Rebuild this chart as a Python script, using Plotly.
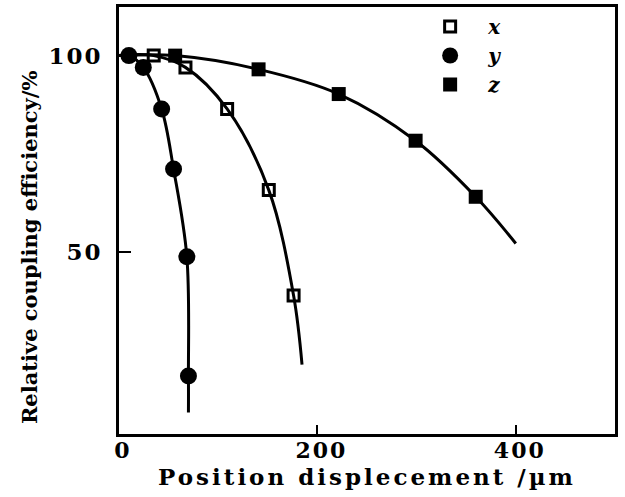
import plotly.graph_objects as go

# Marker data
x_disp = [35, 67, 109, 151, 176]
x_eff = [100, 97, 86.4, 65.7, 38.8]

y_disp = [10, 24.5, 43, 55, 68.4, 70]
y_eff = [100, 97, 86.4, 71.1, 48.7, 18.3]

z_disp = [56.6, 140.7, 221.5, 299, 359.6]
z_eff = [100, 96.5, 90.2, 78.3, 64]

# Fitted curves (start / end of each drawn curve)
x_curve_disp = [0, 35, 67, 109, 151, 176, 184.5]
x_curve_eff = [100, 100, 97, 86.4, 65.7, 38.8, 21.2]

y_curve_disp = [0, 10, 24.5, 43, 55, 68.4, 70, 70]
y_curve_eff = [100, 100, 97, 86.4, 71.1, 48.7, 18.3, 9.0]

z_curve_disp = [0, 56.6, 140.7, 221.5, 299, 359.6, 400]
z_curve_eff = [100, 100, 96.5, 90.2, 78.3, 64, 52.1]

x_ticks = [0, 200, 400]
y_ticks = [50, 100]

FONT = "DejaVu Serif"


def wide_bold(s, sp):
    return f'<b><span style="letter-spacing:{sp}px">{s}</span></b>'


fig = go.Figure()

for cx, cy in [(x_curve_disp, x_curve_eff), (y_curve_disp, y_curve_eff), (z_curve_disp, z_curve_eff)]:
    fig.add_trace(go.Scatter(x=cx, y=cy, mode="lines", showlegend=False,
                             line=dict(color="black", width=3, shape="spline", smoothing=1.0),
                             hoverinfo="skip"))

fig.add_trace(go.Scatter(x=x_disp, y=x_eff, mode="markers", name="<b><i>x</i></b>",
                         marker=dict(symbol="square-open", size=11, color="black",
                                     line=dict(color="black", width=3))))
fig.add_trace(go.Scatter(x=y_disp, y=y_eff, mode="markers", name="<b><i>y</i></b>",
                         marker=dict(symbol="circle", size=17, color="black")))
fig.add_trace(go.Scatter(x=z_disp, y=z_eff, mode="markers", name="<b><i>z</i></b>",
                         marker=dict(symbol="square", size=14, color="black")))

fig.update_layout(
    width=625, height=497,
    margin=dict(l=119, r=10, t=4, b=63),
    paper_bgcolor="white", plot_bgcolor="white",
    font=dict(family=FONT, color="black"),
    showlegend=True,
    legend=dict(x=0.591, y=1.0, xanchor="left", yanchor="top",
                bgcolor="rgba(0,0,0,0)", itemwidth=66,
                font=dict(family=FONT, size=20, color="black")),
    annotations=[dict(text="<b>Relative coupling efficiency/%</b>",
                      xref="paper", yref="paper", x=-0.18, y=0.437,
                      xanchor="center", yanchor="middle", textangle=-90,
                      showarrow=False, font=dict(family=FONT, size=21, color="black"))],
)

fig.update_xaxes(range=[0, 500], tickvals=x_ticks, ticktext=[wide_bold(v, 2) for v in x_ticks],
                 showgrid=False, zeroline=False, showline=True, linecolor="black", linewidth=3,
                 mirror=True, ticks="inside", ticklen=9, tickwidth=2, tickcolor="black",
                 ticklabelstandoff=-5, ticklabelshift=4,
                 tickfont=dict(family=FONT, size=22, color="black"),
                 title=dict(text=wide_bold("Position displecement /µm", 3),
                            font=dict(family=FONT, size=23, color="black"), standoff=4))
fig.update_yaxes(range=[3.5, 112.4], tickvals=y_ticks, ticktext=[wide_bold(v, 2) for v in y_ticks],
                 showgrid=False, zeroline=False, showline=True, linecolor="black", linewidth=3,
                 mirror=True, ticks="inside", ticklen=12, tickwidth=2, tickcolor="black",
                 ticklabelstandoff=9,
                 tickfont=dict(family=FONT, size=23, color="black"))

fig.write_html("out.html", post_script="document.body.style.margin='0';",
               config={"displayModeBar": False})
